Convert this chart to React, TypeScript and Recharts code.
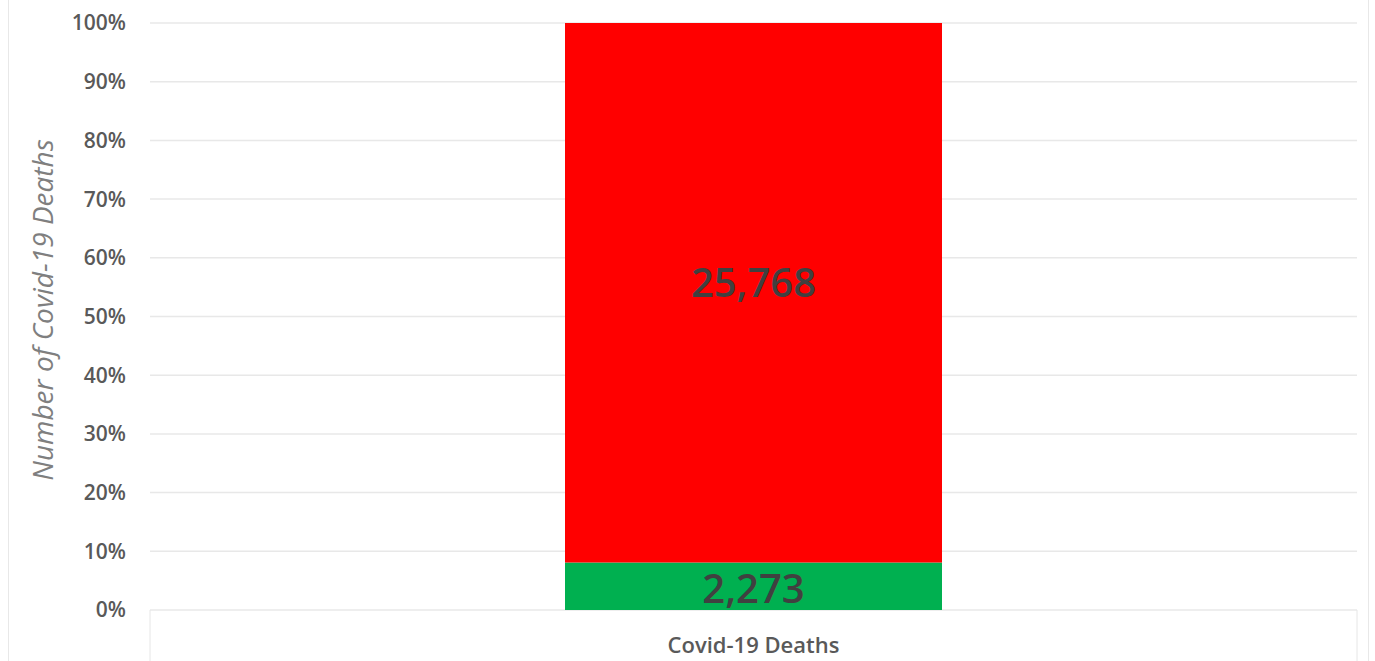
import { Bar, BarChart, CartesianGrid, LabelList, XAxis, YAxis } from "recharts";

const categories = ["Covid-19 Deaths"];
const greenDeaths = [2273];
const redDeaths = [25768];
const yTicks = [0, 0.1, 0.2, 0.3, 0.4, 0.5, 0.6, 0.7, 0.8, 0.9, 1];

const data = categories.map((name, i) => ({ name, green: greenDeaths[i], red: redDeaths[i] }));

const FONT = "'Open Sans', 'Liberation Sans', sans-serif";

function CategoryTick(props: any) {
  const { x, y, payload, width } = props;
  const half = (width ?? 1207) / 2;
  return (
    <g>
      <line x1={x - half} y1={y - 8} x2={x - half} y2={y + 60} stroke="#e6e6e6" />
      <line x1={x + half} y1={y - 8} x2={x + half} y2={y + 60} stroke="#e6e6e6" />
      <text x={x} y={y + 35} textAnchor="middle" fill="#595959" fontSize={22} fontWeight={600} fontFamily={FONT}>
        {payload.value}
      </text>
    </g>
  );
}

const fmt = (v: any) => Number(v).toLocaleString("en-US");

export default function App() {
  return (
    <div style={{ position: "absolute", left: 0, top: 0, width: 1375, height: 661, overflow: "hidden", background: "#fff" }}>
      <div
        style={{
          position: "absolute",
          left: 8,
          top: -2,
          width: 1359,
          height: 670,
          borderLeft: "1px solid #e8e8e8",
          borderRight: "1px solid #e8e8e8",
        }}
      />
      <BarChart
        width={1375}
        height={661}
        data={data}
        stackOffset="expand"
        margin={{ top: 23, right: 18, bottom: 0, left: 0 }}
        style={{ position: "absolute", left: 0, top: 0 }}
      >
        <CartesianGrid vertical={false} stroke="#e8e8e8" strokeWidth={1.5} />
        <XAxis dataKey="name" height={51} axisLine={false} tickLine={false} tick={<CategoryTick />} interval={0} />
        <YAxis
          width={150}
          domain={[0, 1]}
          ticks={yTicks}
          axisLine={false}
          tickLine={false}
          tickMargin={18}
          tickFormatter={(v: number) => `${Math.round(v * 100)}%`}
          tick={{ fill: "#595959", fontSize: 21, fontWeight: 600, fontFamily: FONT }}
        />
        <Bar dataKey="green" stackId="a" fill="#00b050" barSize={377} isAnimationActive={false}>
          <LabelList dataKey="green" position="center" formatter={fmt} dy={3} fill="#404040" fontSize={40} fontWeight={600} fontFamily={FONT} />
        </Bar>
        <Bar dataKey="red" stackId="a" fill="#ff0000" barSize={377} isAnimationActive={false}>
          <LabelList dataKey="red" position="center" formatter={fmt} dy={-10} fill="#404040" fontSize={40} fontWeight={600} fontFamily={FONT} />
        </Bar>
      </BarChart>
      <div
        style={{
          position: "absolute",
          left: 42,
          top: 310,
          transform: "translate(-50%, -50%) rotate(-90deg)",
          whiteSpace: "nowrap",
          fontFamily: FONT,
          fontStyle: "italic",
          fontSize: 28,
          color: "#7f7f7f",
        }}
      >
        Number of Covid-19 Deaths
      </div>
    </div>
  );
}
